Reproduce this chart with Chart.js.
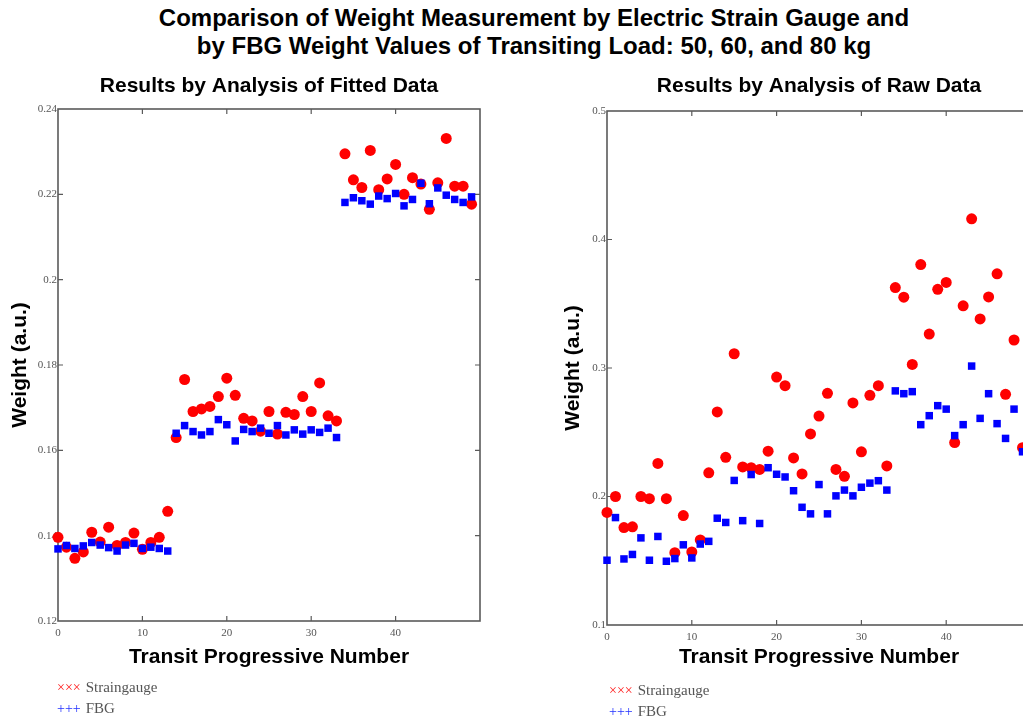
<!DOCTYPE html>
<html>
<head>
<meta charset="utf-8">
<script src="https://cdn.jsdelivr.net/npm/chart.js@4/dist/chart.umd.min.js"></script>
<style>
  html, body { margin: 0; padding: 0; background: #fff; width: 1023px; height: 719px; overflow: hidden; position: relative; }
  #mainTitle { position: absolute; left: 0; top: 4px; width: 1068px; text-align: center;
    font: bold 24px "Liberation Sans", Arial, sans-serif; line-height: 28px; color: #000; }
  .panel { position: absolute; top: 62px; }
  .legend { position: absolute; font: 15px "Liberation Serif", "Times New Roman", serif; color: #555; line-height: 21px; }
  .legend .s { color: #ff1a1a; margin-right: 5px; font-size: 14px; }
  .legend .f { color: #2030ff; margin-right: 5px; font-size: 14px; }
</style>
</head>
<body>
<div id="mainTitle">Comparison of Weight Measurement by Electric Strain Gauge and<br>by FBG Weight Values of Transiting Load: 50, 60, and 80 kg</div>
<div class="panel" style="left:0px;"><canvas id="c1" width="500" height="620"></canvas></div>
<div class="panel" style="left:550px;"><canvas id="c2" width="500" height="620"></canvas></div>
<div class="legend" style="left:57px; top:677px;"><span class="s">×××</span>Straingauge<br><span class="f">+++</span>FBG</div>
<div class="legend" style="left:609px; top:680px;"><span class="s">×××</span>Straingauge<br><span class="f">+++</span>FBG</div>
<script>
// ---- Data ----
const transit = [0,1,2,3,4,5,6,7,8,9,10,11,12,13,14,15,16,17,18,19,20,21,22,23,24,25,26,27,28,29,30,31,32,33,34,35,36,37,38,39,40,41,42,43,44,45,46,47,48,49];

const fittedStrain = [0.1396,0.1373,0.1347,0.1362,0.1408,0.1385,0.1420,0.1377,0.1384,0.1406,
  0.1368,0.1384,0.1396,0.1457,0.1630,0.1766,0.1691,0.1697,0.1703,0.1726,
  0.1769,0.1729,0.1675,0.1669,0.1645,0.1691,0.1638,0.1689,0.1684,0.1726,
  0.1691,0.1758,0.1681,0.1669,0.2295,0.2234,0.2216,0.2303,0.2211,0.2236,
  0.2270,0.2200,0.2239,0.2224,0.2165,0.2227,0.2331,0.2219,0.2219,0.2177];
const fittedFBG = [0.1369,0.1377,0.1370,0.1376,0.1384,0.1378,0.1372,0.1364,0.1378,0.1382,
  0.1370,0.1373,0.1370,0.1364,0.1640,0.1658,0.1644,0.1636,0.1644,0.1672,
  0.1660,0.1622,0.1649,0.1644,0.1652,0.1640,0.1658,0.1636,0.1648,0.1638,
  0.1648,0.1642,0.1652,0.1630,0.2181,0.2192,0.2185,0.2177,0.2196,0.2190,
  0.2202,0.2173,0.2188,0.2226,0.2178,0.2215,0.2198,0.2188,0.2181,0.2194];

const rawStrain = [0.1876,0.2000,0.1758,0.1764,0.2000,0.1983,0.2257,0.1983,0.1563,0.1852,
  0.1568,0.1662,0.2184,0.2658,0.2305,0.3111,0.2230,0.2224,0.2211,0.2353,
  0.2929,0.2862,0.2300,0.2176,0.2487,0.2626,0.2803,0.2211,0.2157,0.2728,
  0.2348,0.2787,0.2862,0.2238,0.3626,0.3551,0.3028,0.3805,0.3264,0.3612,
  0.3666,0.2420,0.3484,0.4161,0.3382,0.3553,0.3733,0.2795,0.3218,0.2380];
const rawFBG = [0.1504,0.1836,0.1514,0.1549,0.1678,0.1504,0.1689,0.1496,0.1517,0.1624,
  0.1522,0.1630,0.1651,0.1831,0.1798,0.2125,0.1812,0.2171,0.1790,0.2224,
  0.2173,0.2152,0.2045,0.1916,0.1865,0.2093,0.1865,0.2005,0.2050,0.2005,
  0.2072,0.2104,0.2123,0.2050,0.2822,0.2800,0.2816,0.2559,0.2629,0.2707,
  0.2680,0.2474,0.2559,0.3015,0.2608,0.2800,0.2567,0.2452,0.2680,0.2348];

const seriesNames = ['Straingauge', 'FBG'];
const panelTitles = ['Results by Analysis of Fitted Data', 'Results by Analysis of Raw Data'];
const xTitle = 'Transit Progressive Number';
const yTitle = 'Weight (a.u.)';

// ---- Helpers ----
function pts(ys) { return transit.map((x, i) => ({ x: x, y: ys[i] })); }

const frameTicks = {
  id: 'frameTicks',
  beforeDatasetsDraw(chart) {
    const { ctx, chartArea: a, scales } = chart;
    ctx.save();
    ctx.strokeStyle = '#5a5a5a';
    ctx.lineWidth = 1.6;
    ctx.strokeRect(a.left, a.top, a.right - a.left, a.bottom - a.top);
    ctx.lineWidth = 1.2;
    const L = 5;
    scales.x.ticks.forEach(t => {
      const px = scales.x.getPixelForValue(t.value);
      if (px <= a.left + 1 || px >= a.right - 1) return;
      ctx.beginPath();
      ctx.moveTo(px, a.bottom); ctx.lineTo(px, a.bottom - L);
      ctx.moveTo(px, a.top); ctx.lineTo(px, a.top + L);
      ctx.stroke();
    });
    scales.y.ticks.forEach(t => {
      const py = scales.y.getPixelForValue(t.value);
      if (py <= a.top + 1 || py >= a.bottom - 1) return;
      ctx.beginPath();
      ctx.moveTo(a.left, py); ctx.lineTo(a.left + L, py);
      ctx.moveTo(a.right, py); ctx.lineTo(a.right - L, py);
      ctx.stroke();
    });
    ctx.restore();
  }
};

function makeChart(id, strain, fbg, title, yMin, yMax, yStep, cfg) {
  return new Chart(document.getElementById(id), {
    type: 'scatter',
    data: {
      datasets: [
        { label: seriesNames[0], data: pts(strain), order: 1, clip: false,
          pointStyle: 'circle', pointRadius: 5.5, pointBorderWidth: 0,
          backgroundColor: '#ff0000', borderColor: '#ff0000' },
        { label: seriesNames[1], data: pts(fbg), order: 0, clip: false,
          pointStyle: 'rect', pointRadius: 5.3, pointBorderWidth: 0,
          backgroundColor: '#0000ff', borderColor: '#0000ff' }
      ]
    },
    options: {
      responsive: false,
      animation: false,
      devicePixelRatio: 1,
      layout: { padding: { left: cfg.padLeft, right: cfg.padRight, top: 0, bottom: cfg.padBottom } },
      plugins: {
        legend: { display: false },
        tooltip: { enabled: false },
        title: {
          display: true, text: title, fullSize: false, color: '#000',
          font: { family: '"Liberation Sans", Arial, sans-serif', size: 21, weight: 'bold' },
          padding: { top: 11.4, bottom: cfg.titleBottom }
        }
      },
      scales: {
        x: {
          type: 'linear', min: 0, max: 50,
          afterFit(s) { s.height = cfg.xHeight; },
          grid: { display: false, drawTicks: false },
          border: { display: false },
          ticks: { stepSize: 10, padding: 6, color: '#555',
            font: { family: '"Liberation Serif", "Times New Roman", serif', size: 11 },
            maxRotation: 0,
            callback: v => (v === 50 ? '' : String(v)) },
          title: { display: true, text: xTitle, color: '#000', padding: { top: 4, bottom: 4 },
            font: { family: '"Liberation Sans", Arial, sans-serif', size: 21, weight: 'bold' } }
        },
        y: {
          type: 'linear', min: yMin, max: yMax,
          afterFit(s) { s.width = cfg.yWidth; },
          grid: { display: false, drawTicks: false },
          border: { display: false },
          ticks: { stepSize: yStep, padding: 1, color: '#555',
            font: { family: '"Liberation Serif", "Times New Roman", serif', size: 11 },
            callback: v => String(parseFloat(Number(v).toFixed(3))) },
          title: { display: true, text: yTitle, color: '#000', padding: { top: 4, bottom: 4 },
            font: { family: '"Liberation Sans", Arial, sans-serif', size: 21, weight: 'bold' } }
        }
      }
    },
    plugins: [frameTicks]
  });
}

makeChart('c1', fittedStrain, fittedFBG, panelTitles[0], 0.12, 0.24, 0.02,
  { padLeft: 3.4, padRight: 20, padBottom: 8.4, titleBottom: 10.4, xHeight: 52.6, yWidth: 54.6 });
makeChart('c2', rawStrain, rawFBG, panelTitles[1], 0.1, 0.5, 0.1,
  { padLeft: 6.4, padRight: 19, padBottom: 8.4, titleBottom: 12.4, xHeight: 48.6, yWidth: 50.6 });
</script>
</body>
</html>
